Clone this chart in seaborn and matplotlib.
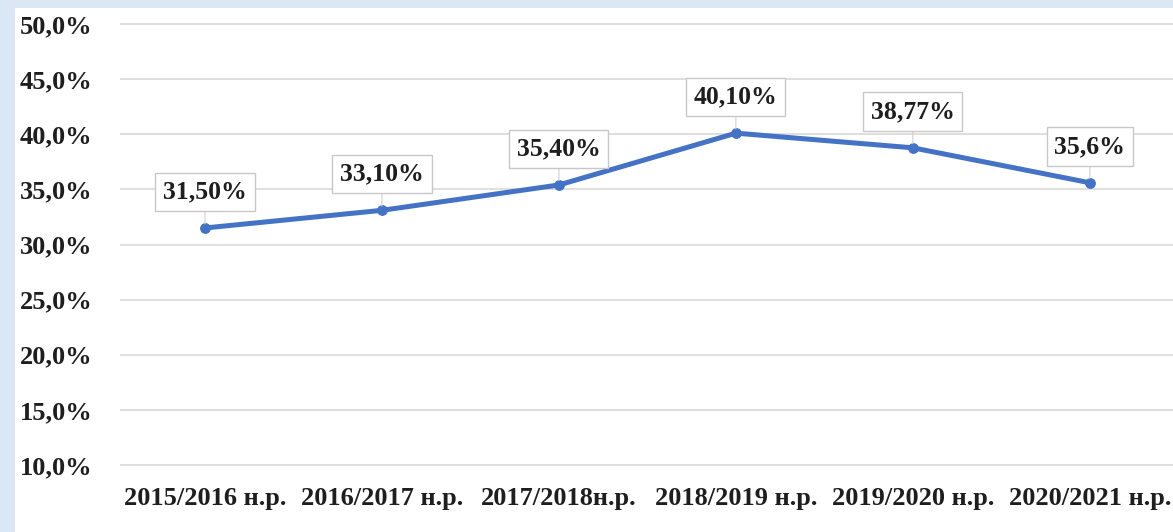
import matplotlib
matplotlib.use("Agg")
import matplotlib.pyplot as plt
import matplotlib.ticker as mticker
from matplotlib.patches import Rectangle
import seaborn as sns
import pandas as pd

years = ["2015/2016 н.р.", "2016/2017 н.р.", "2017/2018н.р.",
         "2018/2019 н.р.", "2019/2020 н.р.", "2020/2021 н.р."]
share = [31.50, 33.10, 35.40, 40.10, 38.77, 35.6]
point_labels = ["31,50%", "33,10%", "35,40%", "40,10%", "38,77%", "35,6%"]
y_ticks = [10, 15, 20, 25, 30, 35, 40, 45, 50]

df = pd.DataFrame({"year": years, "share": share, "pos": range(len(years))})

sns.set_style("white")
plt.rcParams["font.family"] = ["Liberation Serif", "DejaVu Serif"]

fig = plt.figure(figsize=(11.73, 5.32), dpi=100)
fig.patch.set_facecolor("#dce7f6")
fig.add_artist(Rectangle((15 / 1173, 0), 1, 1 - 8 / 532, transform=fig.transFigure,
                         facecolor="white", edgecolor="none", zorder=0))

# axes box in pixels: left 120, top 8, bottom 470
ax = fig.add_axes([120 / 1173, 1 - 470 / 532, 1 - 120 / 1173, (470 - 8) / 532])
ax.set_facecolor("none")

sns.lineplot(data=df, x="pos", y="share", ax=ax, color="#4472C4", linewidth=3.6,
             marker="o", markersize=7, markeredgecolor="#4472C4", zorder=3)

for i, (v, lab) in enumerate(zip(share, point_labels)):
    ax.annotate(lab, xy=(i, v), xytext=(0, 26), textcoords="offset points",
                ha="center", va="center", fontsize=18.5, fontweight="bold", color="#1e1e1e",
                bbox=dict(boxstyle="square,pad=0.3", facecolor="white", edgecolor="#c8c8c8", linewidth=1),
                arrowprops=dict(arrowstyle="-", color="#cfcfcf", linewidth=0.8, shrinkA=0, shrinkB=3),
                zorder=4)

ax.set_ylim(9.55, 51.45)
ax.set_xlim(-0.48, 5.47)
ax.set_yticks(y_ticks)
ax.yaxis.set_major_formatter(mticker.FuncFormatter(lambda v, p: f"{v:.1f}%".replace(".", ",")))
ax.set_xticks(range(len(years)))
ax.set_xticklabels(years)
ax.grid(axis="y", color="#d9d9d9", linewidth=1.2)
ax.grid(axis="x", visible=False)
for s in ax.spines.values():
    s.set_visible(False)
ax.tick_params(axis="y", labelsize=19, pad=20, length=0)
ax.tick_params(axis="x", labelsize=19, pad=12, length=0)
for t in ax.get_yticklabels() + ax.get_xticklabels():
    t.set_fontweight("bold")
    t.set_color("#1e1e1e")
ax.set_xlabel("")
ax.set_ylabel("")

fig.savefig("out.png", dpi=100, facecolor=fig.get_facecolor())
